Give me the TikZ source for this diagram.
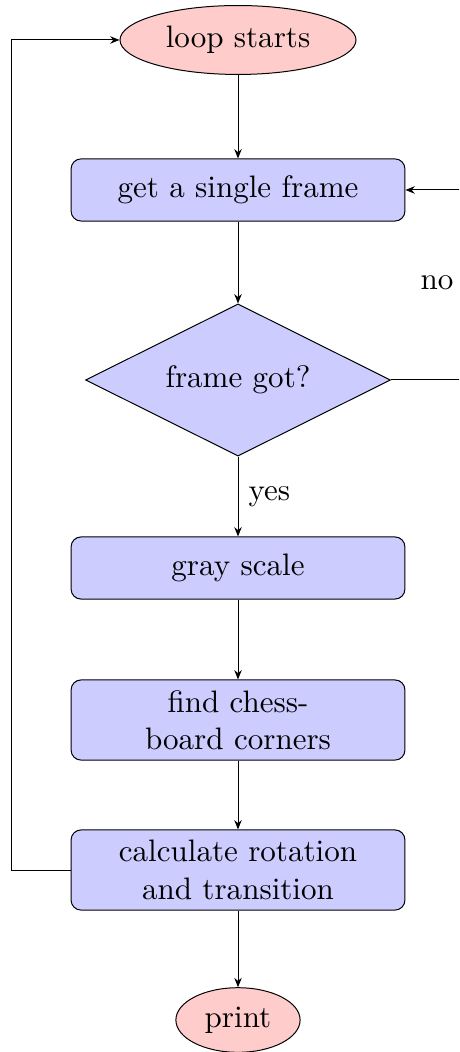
\documentclass[tikz,border=0pt]{standalone}
\usetikzlibrary{shapes.geometric,arrows.meta}
\begin{document}
\begin{tikzpicture}[x=0.322pt,y=-0.322pt,line width=0.32pt,
  every node/.style={font=\normalsize},
  proc/.style={draw,rectangle,rounded corners=3.2pt,fill=blue!20,minimum width=107.5pt,minimum height=20pt,inner sep=0pt,align=center},
  proc2/.style={proc,minimum height=25.8pt},
  term/.style={draw,ellipse,fill=red!20,inner sep=0pt},
  decide/.style={draw,diamond,fill=blue!20,minimum width=98.2pt,minimum height=49pt,inner sep=0pt,aspect=2},
  arr/.style={-{Stealth[length=3pt,width=2.4pt]}},
  lbl/.style={inner sep=0pt}]
\useasboundingbox (0,0) rectangle (459,1052);
\clip (0,0) rectangle (459,1052);
\node[term,minimum width=76pt,minimum height=22.2pt] (start) at (238,40) {loop starts};
\node[proc] (get) at (238,190) {get a single frame};
\node[decide] (dec) at (238,380) {frame got?};
\node[proc] (gray) at (238,568) {gray scale};
\node[proc2] (find) at (238,720) {find chess-\\board corners};
\node[proc2] (calc) at (238,870) {calculate rotation\\and transition};
\node[term,minimum width=40pt,minimum height=20.8pt] (print) at (238,1020) {print};
\coordinate (r1) at (480,380);
\coordinate (r2) at (480,190);
\coordinate (l1) at (11,870);
\coordinate (l2) at (11,40);
\draw[arr] (start) -- (get);
\draw[arr] (get) -- (dec);
\draw[arr] (dec) -- node[lbl,right=10pt*0.322] {yes} (gray);
\draw[arr] (gray) -- (find);
\draw[arr] (find) -- (calc);
\draw[arr] (calc) -- (print);
\draw[arr] (dec.east) -- (r1) -- (r2) -- (get.east);
\node[lbl] (no) at (437,283) {no};
\draw[arr] (calc.west) -- (l1) -- (l2) -- (start.west);
\end{tikzpicture}
\end{document}
